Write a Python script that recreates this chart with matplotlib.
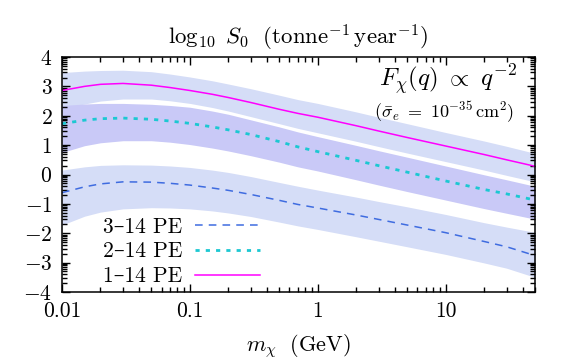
import numpy as np
import matplotlib
matplotlib.use("Agg")
import matplotlib.pyplot as plt
from matplotlib.ticker import FixedLocator, LogLocator, NullFormatter

plt.rcParams['font.family'] = ['cmr10', 'DejaVu Serif']
plt.rcParams['mathtext.fontset'] = 'cm'
plt.rcParams['axes.formatter.use_mathtext'] = True

# ---- data ----
mass = [0.01, 0.015, 0.02, 0.03, 0.05, 0.07, 0.1, 0.15, 0.2, 0.3, 0.5, 0.7,
        1, 2, 3, 5, 10, 20, 30, 50]

pe1_line = [2.86, 3.00, 3.07, 3.10, 3.04, 2.96, 2.86, 2.73, 2.62, 2.45, 2.22, 2.08,
            1.95, 1.66, 1.48, 1.26, 0.97, 0.68, 0.50, 0.28]
pe1_hi = [3.47, 3.52, 3.54, 3.55, 3.50, 3.42, 3.32, 3.19, 3.08, 2.92, 2.70, 2.55,
          2.42, 2.13, 1.95, 1.73, 1.43, 1.14, 0.96, 0.72]
pe1_lo = [2.25, 2.40, 2.50, 2.57, 2.57, 2.51, 2.42, 2.28, 2.16, 1.97, 1.73, 1.57,
          1.42, 1.13, 0.95, 0.73, 0.44, 0.15, -0.03, -0.25]

pe2_line = [1.73, 1.85, 1.90, 1.92, 1.88, 1.82, 1.74, 1.62, 1.52, 1.36, 1.12, 0.94,
            0.78, 0.48, 0.30, 0.08, -0.22, -0.51, -0.66, -0.87]
pe2_hi = [2.35, 2.40, 2.42, 2.42, 2.39, 2.35, 2.29, 2.16, 2.05, 1.86, 1.62, 1.45,
          1.29, 0.99, 0.81, 0.59, 0.29, -0.01, -0.18, -0.40]
pe2_lo = [0.75, 0.98, 1.08, 1.15, 1.15, 1.10, 1.02, 0.90, 0.80, 0.64, 0.42, 0.26,
          0.12, -0.18, -0.36, -0.58, -0.87, -1.16, -1.32, -1.52]

pe3_line = [-0.62, -0.42, -0.32, -0.25, -0.26, -0.30, -0.36, -0.46, -0.54, -0.68, -0.88, -1.02,
            -1.14, -1.38, -1.53, -1.72, -1.98, -2.28, -2.46, -2.76]
pe3_hi = [0.15, 0.26, 0.31, 0.33, 0.32, 0.29, 0.24, 0.15, 0.07, -0.07, -0.27, -0.40,
          -0.53, -0.77, -0.92, -1.10, -1.36, -1.64, -1.79, -1.97]
pe3_lo = [-1.72, -1.42, -1.28, -1.17, -1.13, -1.14, -1.17, -1.24, -1.31, -1.43, -1.62, -1.75,
          -1.87, -2.12, -2.27, -2.46, -2.72, -3.01, -3.19, -3.50]

labels = ['3\u201314 PE', '2\u201314 PE', '1\u201314 PE']
xticks = [0.01, 0.1, 1, 10]
xticklabels = ['0.01', '0.1', '1', '10']
yticks = [-4, -3, -2, -1, 0, 1, 2, 3, 4]

# ---- plot ----
fig = plt.figure(figsize=(5.7, 3.6), dpi=100)
ax = fig.add_axes([62/570, 1-292/360, (535-62)/570, (292-57)/360])

light = '#d5ddf7'
purple = '#c9c9f7'
ax.fill_between(mass, pe1_lo, pe1_hi, color=light, lw=0)
ax.fill_between(mass, pe3_lo, pe3_hi, color=light, lw=0)
ax.fill_between(mass, pe2_lo, pe2_hi, color=purple, lw=0)

l3, = ax.plot(mass, pe3_line, color='#3f6ce0', lw=1.1, dashes=(5, 4))
l2, = ax.plot(mass, pe2_line, color='#1cc8d2', lw=2.0, dashes=(1.5, 2.2))
l1, = ax.plot(mass, pe1_line, color='#ff00ff', lw=1.1)

ax.set_xscale('log')
ax.set_xlim(0.01, 50)
ax.set_ylim(-4, 4)

ax.set_xticks(xticks)
ax.set_xticklabels(xticklabels)
ax.xaxis.set_minor_locator(LogLocator(base=10, subs=np.arange(2, 10)))
ax.xaxis.set_minor_formatter(NullFormatter())

ax.set_yticks(yticks)
ax.set_yticklabels(['$%d$' % v if v >= 0 else '$-%d$' % (-v) for v in yticks])
yminor = [n + np.log10(k) for n in range(-4, 4) for k in range(2, 10)]
ax.yaxis.set_minor_locator(FixedLocator(yminor))

ax.tick_params(which='both', direction='in', top=True, right=True, labelsize=15.5, width=1.0)
ax.tick_params(which='major', length=6, pad=7)
ax.tick_params(which='minor', length=3.5)
for s in ax.spines.values():
    s.set_linewidth(1.1)

ax.set_title(r'$\log_{10}\ S_0\ \ (\mathrm{tonne}^{-1}\,\mathrm{year}^{-1})$', fontsize=16.5, pad=9)
ax.set_xlabel(r'$m_\chi\ \ (\mathrm{GeV})$', fontsize=16, labelpad=8)

ax.text(0.962, 0.872, r'$F_\chi(q)\ \propto\ q^{-2}$', transform=ax.transAxes,
        ha='right', va='baseline', fontsize=18)
ax.text(0.955, 0.742, r'$(\bar{\sigma}_e\ =\ 10^{-35}\,\mathrm{cm}^2)$', transform=ax.transAxes,
        ha='right', va='baseline', fontsize=13)

ax.legend([l3, l2, l1], labels, loc='lower right', bbox_to_anchor=(0.45, -0.04),
          frameon=False, markerfirst=False, fontsize=15.5, handlelength=3.0,
          handletextpad=0.6, labelspacing=0.25, borderaxespad=0.3)

fig.savefig('out.png', dpi=100)
